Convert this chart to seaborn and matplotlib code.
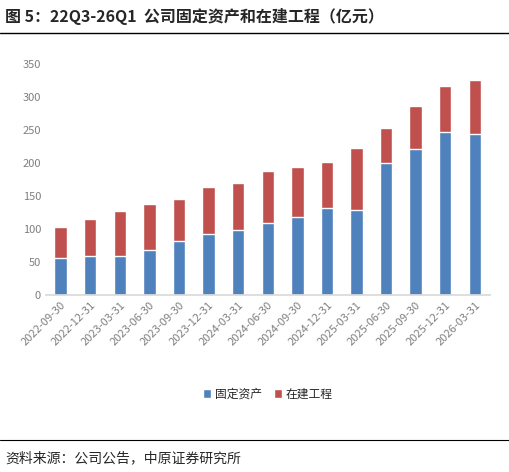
import matplotlib
matplotlib.use("Agg")
import matplotlib.pyplot as plt
import seaborn as sns
import pandas as pd

# data (亿元)
dates = ["2022-09-30", "2022-12-31", "2023-03-31", "2023-06-30", "2023-09-30",
         "2023-12-31", "2024-03-31", "2024-06-30", "2024-09-30", "2024-12-31",
         "2025-03-31", "2025-06-30", "2025-09-30", "2025-12-31", "2026-03-31"]
fixed_assets = [56, 59, 59, 68, 81, 93, 98, 109, 118, 132, 129, 200, 221, 247, 244]
construction = [47, 56, 68, 69, 64, 70, 71, 79, 75, 70, 93, 53, 65, 70, 81]

sns.set_theme(style="white")
plt.rcParams["font.family"] = ["Noto Sans CJK SC", "DejaVu Sans"]

df = pd.DataFrame({"date": dates, "固定资产": fixed_assets, "在建工程": construction})
df["total"] = df["固定资产"] + df["在建工程"]

fig = plt.figure(figsize=(5.1, 4.72), dpi=100)
ax = fig.add_axes([0.09, 0.375, 0.87, 0.49])

# stacked bars: total first in red, then blue on top of it
sns.barplot(data=df, x="date", y="total", color="#c0504d", saturation=1, width=0.42, ax=ax, label="在建工程")
sns.barplot(data=df, x="date", y="固定资产", color="#4f81bd", saturation=1, width=0.42, ax=ax, label="固定资产")

ax.set_ylim(0, 350)
ax.set_yticks(range(0, 351, 50))
ax.set_xlabel("")
ax.set_ylabel("")
ax.tick_params(axis="y", labelsize=8, colors="#7f7f7f", length=0)
ax.tick_params(axis="x", labelsize=8, colors="#7f7f7f", length=0, rotation=45)
for lbl in ax.get_xticklabels():
    lbl.set_ha("right")
    lbl.set_rotation_mode("anchor")
for s in ["top", "right", "left"]:
    ax.spines[s].set_visible(False)
ax.spines["bottom"].set_color("#d9d9d9")

handles, labels = ax.get_legend_handles_labels()
ax.legend(handles[::-1], labels[::-1], loc="upper center", bbox_to_anchor=(0.5, -0.355),
          ncol=2, frameon=False, fontsize=8.5, handlelength=0.7, handleheight=0.7,
          columnspacing=1.0, handletextpad=0.3)

fig.text(0.01, 0.965, "图 5：22Q3-26Q1  公司固定资产和在建工程（亿元）", fontsize=11.5,
         fontweight="bold", va="center")
fig.add_artist(plt.Line2D([0.0, 1.0], [0.93, 0.93], color="black", lw=1))
fig.add_artist(plt.Line2D([0.0, 1.0], [0.068, 0.068], color="black", lw=0.8))
fig.text(0.01, 0.03, "资料来源：公司公告，中原证券研究所", fontsize=10, va="center")

fig.savefig("out.png", dpi=100)
